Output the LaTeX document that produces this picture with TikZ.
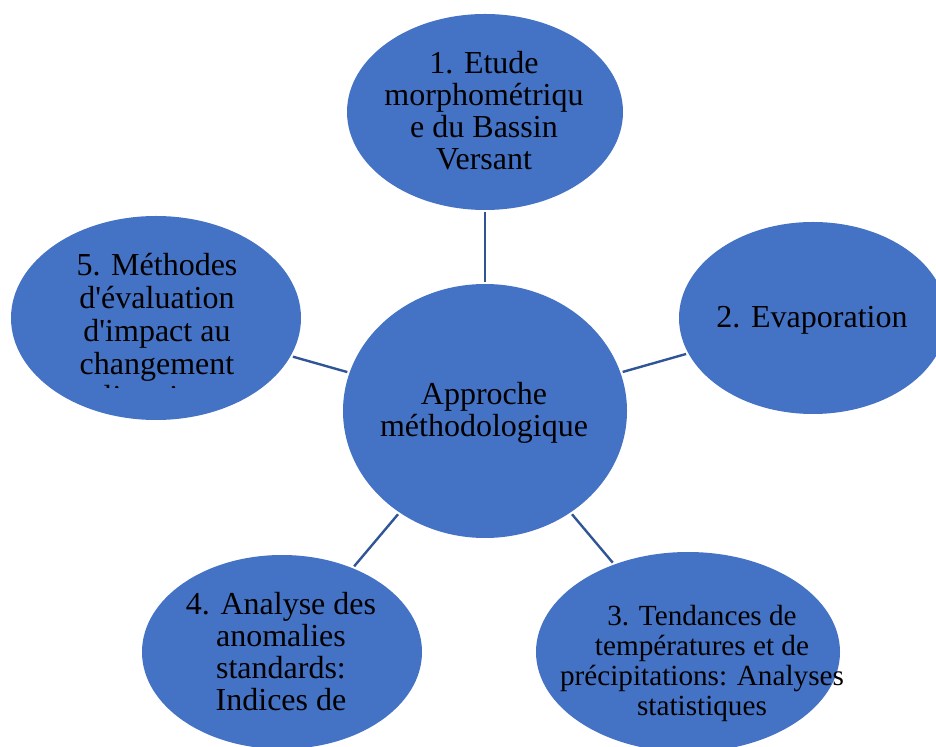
\documentclass[tikz,border=0pt]{standalone}
\usepackage{fontspec}
\setmainfont{Liberation Serif}[Ligatures=TeXOff]
\usetikzlibrary{shapes.geometric}
\definecolor{bubbleblue}{HTML}{4472C4}
\definecolor{linkblue}{HTML}{2F5597}
\begin{document}
\begin{tikzpicture}[x=0.5pt,y=-0.5pt]
\tikzstyle{bubble}=[ellipse,fill=bubbleblue,draw=none,inner sep=0pt]
\tikzstyle{words}=[align=center,inner sep=0pt,font=\fontsize{16}{16}\selectfont]
\tikzstyle{link}=[draw=linkblue,line width=1.2pt,shorten <=1pt,shorten >=1pt]
\clip (0,0) rectangle (936,747);
\node[bubble,minimum width=142pt,minimum height=127pt](c) at (485,411) {};
\node[bubble,minimum width=138pt,minimum height=98pt](e1) at (485,112) {};
\node[bubble,minimum width=134pt,minimum height=96pt](e2) at (813,318) {};
\node[bubble,minimum width=152pt,minimum height=100pt](e3) at (688,652) {};
\node[bubble,minimum width=140pt,minimum height=97pt](e4) at (282,652) {};
\node[bubble,minimum width=145pt,minimum height=102pt](e5) at (156,318) {};
\draw[link] (c) -- (e1);
\draw[link] (c) -- (e2);
\draw[link] (c) -- (e3);
\draw[link] (c) -- (e4);
\draw[link] (c) -- (e5);
\node[words](tc) at (484,413) {Approche\\méthodologique};
\node[words](t1) at (484,111) {1. Etude\\morphométriqu\\e du Bassin\\Versant};
\node[words](t2) at (812,320) {2. Evaporation};
\node[words,font=\fontsize{14.6}{15}\selectfont](t3) at (702,663) {3. Tendances de\\températures et de\\précipitations: Analyses\\statistiques};
\node[words](t4) at (281,652) {4. Analyse des\\anomalies\\standards:\\Indices de};
\begin{scope}
\clip (0,0) rectangle (936,388);
\node[words,font=\fontsize{16}{16.5}\selectfont](t5) at (157,334) {5. Méthodes\\d'évaluation\\d'impact au\\changement\\climatique};
\end{scope}
\end{tikzpicture}
\end{document}
